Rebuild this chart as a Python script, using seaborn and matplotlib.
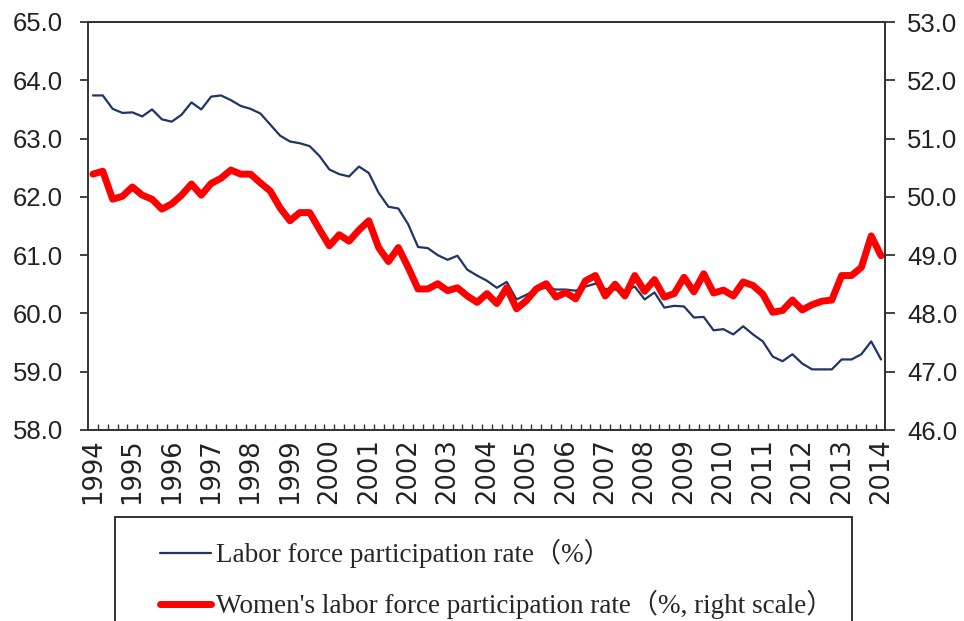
import numpy as np
import pandas as pd
import matplotlib
matplotlib.use("Agg")
import matplotlib.pyplot as plt
from matplotlib.patches import Rectangle
import seaborn as sns

# -----------------------------------------------------------------------------
# DATOS (trimestrales, 1994 T1 - 2014 T1)
# -----------------------------------------------------------------------------
years = list(range(1994, 2015))
quarters = [f"{y}Q{q}" for y in range(1994, 2015) for q in range(1, 5)][:81]

total_rate = [
    63.74, 63.74, 63.51, 63.44, 63.45, 63.38, 63.50, 63.33, 63.29, 63.41,
    63.62, 63.50, 63.72, 63.74, 63.66, 63.56, 63.51, 63.43, 63.24, 63.05,
    62.95, 62.92, 62.87, 62.70, 62.47, 62.39, 62.35, 62.52, 62.41, 62.07,
    61.83, 61.80, 61.53, 61.14, 61.12, 61.00, 60.92, 60.99, 60.75, 60.65,
    60.56, 60.44, 60.54, 60.24, 60.32, 60.41, 60.44, 60.41, 60.41, 60.39,
    60.46, 60.51, 60.42, 60.41, 60.39, 60.46, 60.24, 60.36, 60.10, 60.13,
    60.12, 59.93, 59.94, 59.71, 59.73, 59.64, 59.78, 59.64, 59.52, 59.26,
    59.18, 59.30, 59.14, 59.04, 59.04, 59.04, 59.21, 59.21, 59.30, 59.52,
    59.21,
]

women_rate = [
    50.39, 50.44, 49.96, 50.01, 50.17, 50.03, 49.96, 49.79, 49.88, 50.03,
    50.22, 50.03, 50.23, 50.32, 50.46, 50.39, 50.39, 50.24, 50.10, 49.81,
    49.59, 49.73, 49.73, 49.44, 49.16, 49.35, 49.24, 49.43, 49.59, 49.13,
    48.89, 49.13, 48.79, 48.42, 48.42, 48.51, 48.39, 48.44, 48.30, 48.19,
    48.34, 48.17, 48.44, 48.08, 48.22, 48.42, 48.51, 48.28, 48.36, 48.25,
    48.56, 48.65, 48.30, 48.50, 48.30, 48.65, 48.38, 48.58, 48.28, 48.34,
    48.62, 48.37, 48.68, 48.35, 48.40, 48.30, 48.54, 48.48, 48.33, 48.02,
    48.05, 48.23, 48.06, 48.15, 48.21, 48.23, 48.65, 48.65, 48.79, 49.33,
    48.99,
]

label_total = "Labor force participation rate（%）"
label_women = "Women's labor force participation rate（%, right scale）"

df = pd.DataFrame({
    "trimestre": quarters,
    "pos": np.arange(len(quarters)),
    "total": total_rate,
    "mujeres": women_rate,
})

# -----------------------------------------------------------------------------
# GRÁFICA
# -----------------------------------------------------------------------------
sns.set_style("ticks")
plt.rcParams["font.family"] = ["Liberation Sans", "DejaVu Sans"]

W, H = 964, 621
fig = plt.figure(figsize=(W / 100, H / 100), dpi=100)
ax = fig.add_axes([88 / W, 1 - 430 / H, (885 - 88) / W, (430 - 22) / H])
ax2 = ax.twinx()

sns.lineplot(data=df, x="pos", y="total", ax=ax, color="#1f3566",
             linewidth=1.6, label=label_total, legend=False)
sns.lineplot(data=df, x="pos", y="mujeres", ax=ax2, color="#ff0000",
             linewidth=5.0, label=label_women, legend=False)

ax.set_xlim(-0.5, 80.4)
ax.set_ylim(58, 65)
ax2.set_ylim(46, 53)
ax.set_yticks(np.arange(58, 65.1, 1))
ax2.set_yticks(np.arange(46, 53.1, 1))
ax.set_yticklabels([f"{v:.1f}" for v in np.arange(58, 65.1, 1)])
ax2.set_yticklabels([f"{v:.1f}" for v in np.arange(46, 53.1, 1)])

# Etiquetas de año en cada primer trimestre
ax.set_xticks([4 * k for k in range(len(years))])
ax.set_xticklabels([str(y) for y in years], rotation=90,
                   family=["DejaVu Sans"], fontsize=18.5)
ax.set_xticks(np.arange(0.5, 80, 1), minor=True)
ax.tick_params(axis="x", which="major", length=0, pad=6, colors="#222222")
ax.tick_params(axis="x", which="minor", direction="in", length=4.5,
               width=1.0, color="#333333")
ax.tick_params(axis="y", which="major", direction="out", length=6,
               width=1.2, labelsize=18.5, colors="#222222", pad=12)
ax2.tick_params(axis="y", which="major", direction="out", length=7,
                width=1.2, labelsize=18.5, colors="#222222", pad=9)

ax.set_xlabel("")
ax.set_ylabel("")
ax2.set_ylabel("")

for a in (ax, ax2):
    for s in a.spines.values():
        s.set_visible(True)
        s.set_color("#333333")
        s.set_linewidth(1.3)
ax.spines["left"].set_color("#777777")

# Marco de la leyenda (recortado por el borde inferior, como en el original)
fig.patches.append(Rectangle((115 / W, -0.1), (852 - 115) / W, 0.1 + (H - 517) / H,
                             transform=fig.transFigure, fill=False,
                             edgecolor="#222222", linewidth=1.3))

handles = ax.get_lines()[:1] + ax2.get_lines()[:1]
leg = fig.legend(handles, [label_total, label_women],
                 loc="upper left",
                 bbox_to_anchor=(160 / W, 1 - 539 / H),
                 frameon=False,
                 handlelength=1.9, handletextpad=0.15, labelspacing=0.8,
                 borderpad=0.0, borderaxespad=0.0,
                 prop={"family": ["Liberation Serif", "Noto Sans CJK JP"], "size": 19.5})

fig.savefig("out.png", dpi=100)
